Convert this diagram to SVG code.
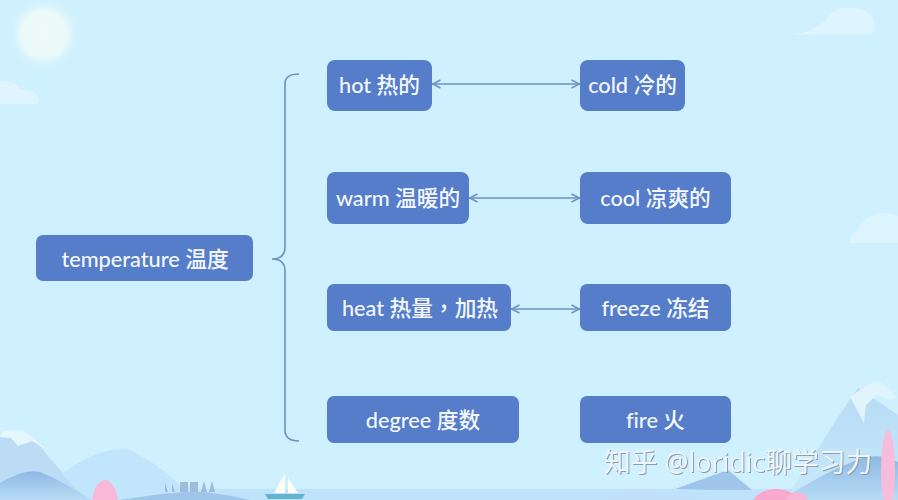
<svg xmlns="http://www.w3.org/2000/svg" width="898" height="500" viewBox="0 0 898 500">
<defs>
<style>
.n{fill:#557dca}
.t{fill:#f4f8fd;font:21.7px "Lato","Noto Sans CJK TC",sans-serif;text-anchor:middle;font-weight:500;font-variant-ligatures:none}
.c{fill:none;stroke:#6b92c0;stroke-width:1.6}
.wm{fill:#eef6fb;font:26.800px "Open Sans","Noto Sans CJK SC",sans-serif;filter:drop-shadow(1px 1.5px 0.6px #8d9dac)}
</style>
<radialGradient id="sun"><stop offset="0" stop-color="#eefaf8"/><stop offset=".6" stop-color="#ebf9f9"/><stop offset=".72" stop-color="#dcf5fb"/><stop offset="1" stop-color="#cff0fe" stop-opacity="0"/></radialGradient>
<linearGradient id="m1" x1="0" y1="0" x2="0" y2="1"><stop offset="0" stop-color="#8fb8e2"/><stop offset="1" stop-color="#b8dcf6"/></linearGradient>
<linearGradient id="m2" x1="0" y1="0" x2="0" y2="1"><stop offset="0" stop-color="#b6dbf4"/><stop offset="1" stop-color="#c8e9fb"/></linearGradient>
<marker id="a" viewBox="0 0 10 10" refX="9.500" refY="5" markerWidth="10" markerHeight="10" markerUnits="userSpaceOnUse" orient="auto-start-reverse"><path d="M1 1 9 5 1 9" fill="none" stroke="#6b92c0" stroke-width="1.500"/></marker>
</defs>
<rect width="898" height="500" fill="#cff0fe"/>
<g id="scenery">
<circle cx="44" cy="34" r="38" fill="url(#sun)"/>
<path d="M0 104H37Q41 100 37 95 33 90 22 90 15 81 0 81Z" fill="#dff4fd"/>
<path d="M793 35Q815 31 825 21 832 7 848 8 867 7 874 20 876 30 872 34Z" fill="#def5fe"/>
<path d="M898 243H850Q848 235 857 231 864 214 884 213 893 213 898 216Z" fill="#dcf4fe"/>
<rect y="489" width="898" height="11" fill="#bfe3fb"/>
<path d="M0 437 14 430 32 437 60 470 90 500H0Z" fill="#bcdcf5"/>
<path d="M0 437 3 431 22 430 34 438 45 449 32 441 18 446 11 438Z" fill="#e5f6fd"/>
<path d="M62 474Q100 445 130 450 160 465 180 485 205 490 250 500H85Z" fill="#c1e5fa"/>
<path d="M0 483Q25 468 40 472 60 480 92 500H0Z" fill="url(#m1)"/>
<ellipse cx="105" cy="505" rx="13" ry="25" fill="#f9b8d8"/>
<path d="M120 500Q180 490 205 492 230 495 250 500Z" fill="#9fc6e8"/>
<path d="M165 492V483L168 492ZM172 492V483L175 492ZM180 492V482H188V492ZM190 492V482H198V492ZM201 492 204 481 207 492ZM209 492 212 481 215 492Z" fill="#9cbbdd"/>
<path d="M285 473 274 493H285ZM288 478 298 493H288Z" fill="#fdfdf3"/>
<path d="M265 494H305L302 499H268Z" fill="#62b4d4"/>
<path d="M600 500 640 490 660 495 700 500Z" fill="#c2e1f8"/>
<path d="M675 489 728 470 752 490 715 490Z" fill="#9fc5ea"/>
<path d="M785 500 840 414 858 388 898 415V500Z" fill="url(#m2)"/>
<path d="M850 397 868 384 880 381 898 398 889 400 877 395 866 405 864 423Z" fill="#dff4fd"/>
<path d="M780 500Q830 470 850 463 875 450 898 462V500Z" fill="url(#m1)"/>
<ellipse cx="888" cy="470" rx="7" ry="40" fill="#f7bcdc"/>
<ellipse cx="776" cy="505" rx="24" ry="16" fill="#f9a8d0"/>
<ellipse cx="797" cy="503" rx="11" ry="11" fill="#f9b7d8"/>
</g>
<g id="connectors">
<path class="c" d="M299 74Q285 74 285 84V247Q285 259 272 259 285 259 285 271V430Q285 441 299 441"/>
<path class="c" d="M432 84H580" marker-start="url(#a)" marker-end="url(#a)"/>
<path class="c" d="M469 198H580" marker-start="url(#a)" marker-end="url(#a)"/>
<path class="c" d="M511 309H580" marker-start="url(#a)" marker-end="url(#a)"/>
</g>
<g id="temperature"><rect class="n" x="36" y="235" width="217" height="46" rx="7"/><text class="t" x="145" y="267">temperature 温度</text></g>
<g id="hot"><rect class="n" x="327" y="60" width="105" height="51" rx="8"/><text class="t" x="379.500" y="93">hot 热的</text></g>
<g id="cold"><rect class="n" x="580" y="60" width="105" height="51" rx="8"/><text class="t" x="632.500" y="93">cold 冷的</text></g>
<g id="warm"><rect class="n" x="327" y="172" width="142" height="52" rx="8"/><text class="t" x="398" y="206">warm 温暖的</text></g>
<g id="cool"><rect class="n" x="580" y="172" width="151" height="52" rx="8"/><text class="t" x="655.500" y="206">cool 凉爽的</text></g>
<g id="heat"><rect class="n" x="327" y="284" width="184" height="47" rx="7"/><text class="t" x="420" y="316">heat 热量，加热</text></g>
<g id="freeze"><rect class="n" x="580" y="284" width="151" height="47" rx="7"/><text class="t" x="655.500" y="316">freeze 冻结</text></g>
<g id="degree"><rect class="n" x="327" y="396" width="192" height="47" rx="7"/><text class="t" x="423" y="428">degree 度数</text></g>
<g id="fire"><rect class="n" x="580" y="396" width="151" height="47" rx="7"/><text class="t" x="655.500" y="428">fire 火</text></g>
<text class="wm" x="604" y="472">知乎 @loridic聊学习力</text>
</svg>
